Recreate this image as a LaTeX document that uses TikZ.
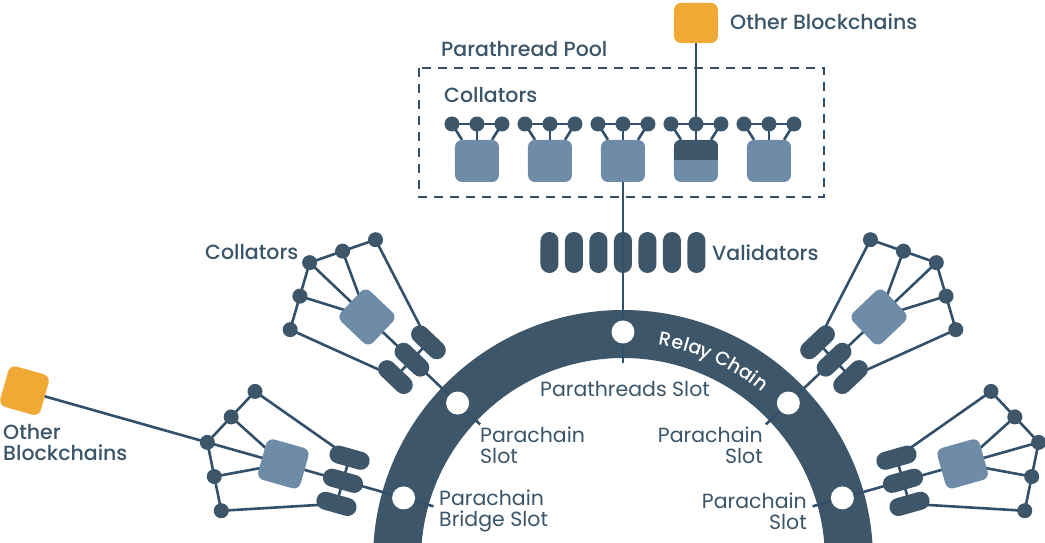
\documentclass[tikz,border=0pt]{standalone}
\usepackage{fontspec}
\setmainfont{Poppins}
\newfontfamily\medfont{Poppins Medium}
\definecolor{dk}{HTML}{3D5669}
\definecolor{ln}{HTML}{33506A}
\definecolor{lt}{HTML}{6E8BA7}
\definecolor{og}{HTML}{F0A935}
\definecolor{tx}{HTML}{3A5468}
\pgfdeclarelayer{base}
\pgfdeclarelayer{bg}
\pgfsetlayers{base,bg,main}
\newcommand\rfont{\medfont\fontsize{19}{19}\selectfont}
\tikzset{
  conn/.style={draw=ln, line width=2.6pt, line join=round},
  dotn/.style={circle, fill=dk, minimum size=15pt, inner sep=0pt},
  vpill/.style={rectangle, fill=dk, minimum width=18pt, minimum height=41pt, rounded corners=8.9pt, inner sep=0pt},
  hpill/.style={rectangle, fill=dk, minimum width=41pt, minimum height=18pt, rounded corners=8.9pt, inner sep=0pt},
  cbox/.style={rectangle, fill=lt, minimum width=44pt, minimum height=42pt, rounded corners=7pt, inner sep=0pt},
  obox/.style={rectangle, fill=og, minimum width=44pt, minimum height=40pt, rounded corners=7pt, inner sep=0pt},
  slot/.style={circle, fill=white, minimum size=23pt, inner sep=0pt},
  lbl/.style={text=tx, font=\medfont\fontsize{20.5}{22}\selectfont, inner sep=0pt},
  slbl/.style={text=tx, font=\fontsize{20.5}{22}\selectfont, inner sep=0pt},
  arcch/.style={text=white, font=\rfont, inner sep=0pt, anchor=base},
}
\newcommand\grp[2]{%
  \begin{scope}[shift={(#1:228)}, rotate=#1]
    \node[cbox, transform shape] (#2b) at (125,0) {};
    \node[hpill, transform shape] (#2p1) at (63,24) {};
    \node[hpill, transform shape] (#2p2) at (63,0) {};
    \node[hpill, transform shape] (#2p3) at (63,-24) {};
    \node[dotn] (#2d1) at (172,62) {};
    \node[dotn] (#2d2) at (188,31) {};
    \node[dotn] (#2d3) at (204,0) {};
    \node[dotn] (#2d4) at (188,-31) {};
    \node[dotn] (#2d5) at (172,-62) {};
    \node[slot] (#2s) at (0,0) {};
    \coordinate (#2t) at (-31,0);
  \end{scope}
  \begin{pgfonlayer}{bg}
    \draw[conn] (#2d1.center) -- (#2d2.center) -- (#2d3.center) -- (#2d4.center) -- (#2d5.center);
    \draw[conn] (#2d1.center) -- (#2p1.center);
    \draw[conn] (#2d5.center) -- (#2p3.center);
    \draw[conn] (#2d2.center) -- (#2b.center);
    \draw[conn] (#2d3.center) -- (#2b.center);
    \draw[conn] (#2d4.center) -- (#2b.center);
    \draw[conn] (#2b.center) -- (#2p2.center) -- (#2s.center) -- (#2t);
    \draw[conn] (#2p1.center) -- (#2p3.center);
  \end{pgfonlayer}
}
\begin{document}
\begin{tikzpicture}[x=1pt, y=1pt]
\useasboundingbox (-623,17) rectangle (422,560);
\clip (-623,17) rectangle (422,560);
% relay chain band
\begin{pgfonlayer}{base}
  \fill[dk] (0:250) arc[start angle=0, end angle=180, radius=250]
    -- (180:202) arc[start angle=180, end angle=0, radius=202] -- cycle;
\end{pgfonlayer}
% "Relay Chain" set letter by letter along the band (baseline radius 218)
\pgfmathsetmacro\startang{65.7+(115.3/2)/218*57.29578}
\xdef\cumv{0}
\foreach \ch/\w [count=\k] in {R/12.6,e/11.3,l/5.1,a/11.6,y/10.5}{
  \pgfmathsetmacro\ang{\startang-(\cumv+0.5*\w)/218*57.29578}
  \node[arcch, rotate=\ang-90] (rcA\k) at (\ang:218) {\ch};
  \pgfmathsetmacro\tmp{\cumv+\w+0.6}
  \xdef\cumv{\tmp}
}
\pgfmathsetmacro\tmp{\cumv+5.3}
\xdef\cumv{\tmp}
\foreach \ch/\w [count=\k] in {C/13.4,h/11.9,a/11.6,i/5.1,n/11.9}{
  \pgfmathsetmacro\ang{\startang-(\cumv+0.5*\w)/218*57.29578}
  \node[arcch, rotate=\ang-90] (rcB\k) at (\ang:218) {\ch};
  \pgfmathsetmacro\tmp{\cumv+\w+0.6}
  \xdef\cumv{\tmp}
}

% collator groups
\grp{136.5}{A}
\grp{43.5}{B}
\grp{164.2}{C}
\grp{15.8}{D}

% other blockchains (left)
\begin{scope}[shift={(164.2:228)}, rotate=164.2]
  \node[obox, minimum width=42pt, minimum height=42pt, transform shape] (ol) at (394,0) {};
\end{scope}
\begin{pgfonlayer}{bg}
  \draw[conn] (ol.center) -- (Cd3.center);
\end{pgfonlayer}
\node[lbl, align=left, anchor=west] (olt) at (-620,117.5) {Other\\[-1pt]Blockchains};

% parathread pool
\node[lbl, anchor=west] (ppt) at (-182,511) {Parathread Pool};
\node[lbl, anchor=west] (pct) at (-179,465) {Collators};
\draw[conn, dash pattern=on 9pt off 7pt, line join=miter] (-204,492) rectangle (201,363);
\foreach \i in {1,...,5}{
  \pgfmathsetmacro\cx{73*(\i-3)}
  \node[cbox] (c\i) at (\cx,399) {};
  \node[dotn] (cl\i) at (\cx-25,436) {};
  \node[dotn] (cm\i) at (\cx,436) {};
  \node[dotn] (cr\i) at (\cx+25,436) {};
  \begin{pgfonlayer}{bg}
    \draw[conn] (cl\i.center) -- (cm\i.center) -- (cr\i.center);
    \draw[conn] (cl\i.center) -- ([xshift=-15pt]c\i.north);
    \draw[conn] (cm\i.center) -- (c\i.center);
    \draw[conn] (cr\i.center) -- ([xshift=15pt]c\i.north);
  \end{pgfonlayer}
}
\begin{scope}
  \clip[rounded corners=7pt] (c4.south west) rectangle (c4.north east);
  \fill[dk] ([yshift=-20pt]c4.north west) rectangle (c4.north east);
\end{scope}
\node[obox] (ot) at (73,537) {};
\begin{pgfonlayer}{bg}
  \draw[conn] (ot.center) -- (cm4.center);
\end{pgfonlayer}
\node[lbl, anchor=west] (ott) at (107,538) {Other Blockchains};

% validators
\foreach \i in {0,...,6}{
  \node[vpill] (v\i) at ({24.5*(\i-3)},307.5) {};
}
\node[lbl, anchor=west] (vt) at (89,307) {Validators};
\coordinate (tt) at (0,197);
\draw[conn] (c3.south) -- (tt);
\node[slot] (ts) at (90:228) {};

% labels
\node[lbl, anchor=west] (lct) at (-418,308) {Collators};
\node[slbl] (pst) at (2,171) {Parathreads Slot};
\node[slbl, align=left, anchor=west] (l1) at (-143,115) {Parachain\\[-1pt]Slot};
\node[slbl, align=left, anchor=west] (l2) at (-184,49) {Parachain\\[-1pt]Bridge Slot};
\node[slbl, align=right, anchor=east] (r1) at (140,115) {Parachain\\[-1pt]Slot};
\node[slbl, align=right, anchor=east] (r2) at (184,49) {Parachain\\[-1pt]Slot};
\end{tikzpicture}
\end{document}
